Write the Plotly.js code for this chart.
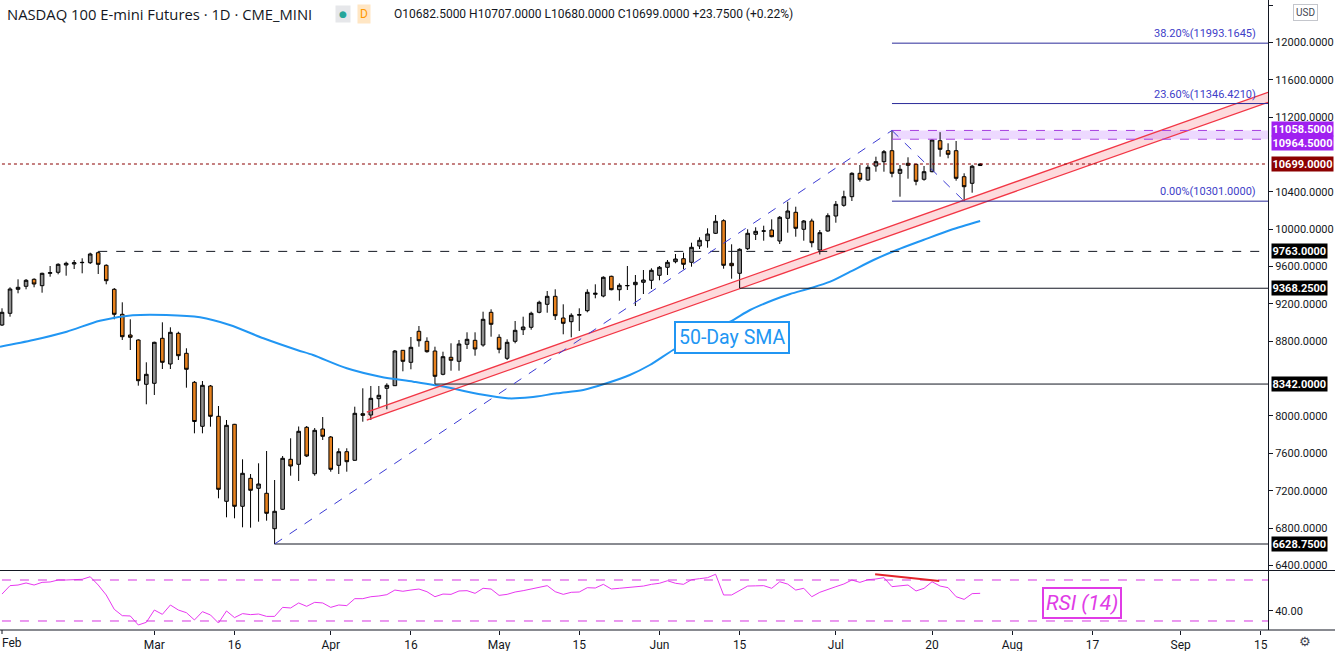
<!DOCTYPE html>
<html>
<head>
<meta charset="utf-8">
<script src="https://cdn.plot.ly/plotly-3.0.1.min.js"></script>
<style>
  html, body { margin: 0; padding: 0; background: #ffffff; }
  #chart { width: 1335px; height: 651px; }
</style>
</head>
<body>
<div id="chart"></div>
<script>
// ---- Data (daily bars, Feb 3 – Jul 28 2020, bar index = position) ----
const openP = [8974.5,9099.8,9356.9,9389,9464,9395.5,9528.3,9539,9617.2,9627.9,9641.8,9641.8,9748.9,9614,9356.9,9089.1,8867.4,8813.9,8339.4,8350.1,
  8832.1,8556.8,8885.6,8671.4,8360.8,7889.5,8321.2,7996.6,7086.2,7910.9,7032.6,7332.5,7225.4,7171.9,6792.7,7000.5,7536,7482.5,7878.8,7381.8,
  7860.6,7774.9,7471.8,7617.4,7525.3,8024.5,8010.5,8185.1,8296.5,8324.4,8703.5,8575,8907,8799.9,8696,8446.5,8628.6,8585.7,8767.8,8810.6,
  8760.3,9110.5,8842.8,8617.8,8799.9,8924.2,8949.9,9110.5,9196.2,9281.9,9049.5,9009.9,9080,9127.7,9303.4,9285.1,9496.1,9352.6,9395,9406.2,
  9431.9,9453.3,9506.9,9592.5,9652.5,9684.7,9646.1,9820.7,9877.5,9956.7,10091.7,9635.4,9528.3,9791.8,9946,9980,9992.1,9874.2,10117.4,10181.7,
  9999.6,10088.5,9777.8,9981.4,10142,10256.6,10348.7,10599.4,10527.6,10677.6,10723.6,10841.5,10599.4,10706.5,10695.8,10535.1,10616.5,10948.6,10841.5,10841.5,
  10563,10492.3,10682.5];
const highP = [9153.4,9378.3,9464,9467.2,9474.7,9534.7,9606.5,9635.4,9652.5,9670.7,9688.9,9748.9,9763,9624.7,9370.8,9217.7,9035.6,8821.2,8575,8795.7,
  9003.4,8949.9,8902.8,8725,8374.7,8374.7,8331.9,8106.9,7957,7915,7536,7378.6,7493.2,7624.9,7314.3,7571.4,7761,7887.4,7892.7,7871,
  7989.1,7785.6,7653.9,7653.9,8099.4,8296.5,8321.2,8321.2,8350.1,8706.7,8706,8846,8963.8,8842.8,8742.1,8688.5,8778.5,8813.9,8896.3,8896.3,
  9117,9142.7,8874.9,8821.2,9017.4,9063.4,9117,9234.8,9338.7,9356.9,9196.2,9099.8,9153.4,9356.9,9410.5,9496.1,9502.6,9421.2,9606.5,9510.1,
  9563.6,9581.8,9606.5,9670.7,9735,9748.9,9856,9913.9,10010.3,10152.7,10106.7,9838.9,9796.1,9999.6,10021,10038.1,10106.7,10142,10295.2,10241.6,
  10099.2,10113.1,9992.1,10170.9,10302.7,10413,10610.1,10688.3,10688.3,10777.2,10848.9,11058.5,10688.3,10770.8,10700,10677.6,10964.5,11040,10920.7,10945.3,
  10599.4,10690,10707];
const lowP = [8963.8,9063.4,9314,9356.9,9378.3,9320.5,9491.9,9517.6,9502.6,9574.3,9528.3,9627.9,9520.8,9410.5,9035.6,8813.9,8706.7,8324.4,8125.1,8224.8,
  8503.2,8503.2,8599.6,8302.9,7814.5,7814.5,7885.2,7118.3,6914.8,6904.1,6807.7,6803.4,6867.7,6878.4,6628.75,6993,7360.4,7303.6,7560,7360.4,
  7742.8,7403.2,7378.6,7403.2,7520,7938.8,7957,8093,8071.6,8321.2,8478.6,8500,8742.1,8677.8,8342,8435.8,8485,8485,8717.5,8645.7,
  8742.1,8849.2,8671.4,8599.6,8778.5,8867.4,8924.2,9099.8,9106.2,9028.1,8874.9,8842.8,8910.3,9110.5,9260.5,9271.2,9346.2,9234.8,9349.4,9178,
  9306.6,9360.1,9453.3,9510.1,9635.4,9571.1,9599,9788.6,9802.5,9949,9577.6,9470.4,9368.25,9777.8,9885,9877.5,9913.9,9842.1,9963.1,9920.3,
  9877.5,9806.8,9730,9973.9,10070.3,10241.6,10302.7,10509.4,10520.1,10616.5,10616.5,10556.5,10348.7,10541.5,10470.9,10520.1,10610,10777.2,10760,10520.1,
  10301,10391.6,10680];
const closeP = [9110.5,9360.1,9378.3,9453.3,9413.7,9528.3,9534.7,9624.7,9635.4,9641.8,9645,9735,9624.7,9449,9089.1,8849.2,8842.8,8377.9,8446.5,8789.2,
  8575,8896.3,8645.7,8500,7940.9,8328.6,7996.6,7214.7,7900.2,7032.6,7386.1,7204,7271.5,6957.6,6979.1,7546.7,7464.3,7835.9,7571.4,7846.6,
  7782.4,7428.9,7617.4,7510.3,8028.7,8007.3,8189.4,8221.6,8328.6,8696,8585.7,8735.7,8806.2,8688.5,8425,8635,8596.4,8771,8821.2,8717.5,
  9035.6,8982,8714.2,8789.2,8917.7,8953.1,9099.8,9217.7,9281.9,9074.1,8992.7,9078.4,9085,9324.8,9314.1,9485.4,9352.6,9399.7,9397,9431.9,
  9456.5,9560.4,9592.5,9646.1,9681.5,9624.7,9806.8,9881.7,9949.2,10085.3,9614,9609.7,9785.3,9956.7,9978.1,9982,9920.3,10128.1,10195.6,10010.3,
  10088.5,9856,9963.1,10145.2,10267.3,10348.7,10599.4,10535.1,10663.6,10723.6,10830.7,10599.4,10642.2,10685.1,10513.7,10616.5,10956.1,10856.4,10802.9,10545.8,
  10455.9,10675.25,10699];

// 50-day SMA (bar position, price)
const smaX = [-0.25,3.9,8.07,12.2,16.3,20.5,24.7,28.4,32.6,36.8,38.8,43,47.2,51.3,55.5,59.6,63,65.9,69.2,72.5,75.4,78.3,80.8,83.7,87.1,90.8,93.3,96.2,98.3,100.8,103.3,105.8,108.7,111.6,114.9,118.3,122];
const smaY = [8742,8814,8903,9020.6,9078.4,9081.6,9057,8974.5,8832,8706.7,8653,8510.7,8420.7,8367.1,8307.1,8232.1,8189.3,8200,8242.8,8278.3,8350.3,8439.2,8546.1,8706.7,8867.4,9009.9,9135.2,9242.3,9306.6,9367.6,9438.3,9545.4,9670.7,9777.9,9885,9992.1,10088.5];

// RSI(14) per bar
const rsi = [56.3,64.5,65.1,67.1,65.1,67.7,68.1,70,70,70.7,70.7,73.2,65.1,55.4,41.4,35.2,34.9,26.1,28.7,40.7,
  36.5,45.6,40.7,38.1,31,39.1,35.9,28,39.8,33.3,37.2,36.2,36.8,34.5,34.5,43.3,42.7,47.6,44.3,48.2,
  47.6,43.3,45.6,45,51.8,51.8,53.7,54.4,55.7,60.2,59,60.2,61.2,58.6,53.7,56.3,56,59.3,59.6,57,
  61.9,61.2,55,56,58.3,59.6,61.2,63.5,64.5,58.6,56,58,58.3,62.5,62.2,65.8,61.2,61.9,62.5,62.8,
  64.1,65.8,66.8,69.3,66.8,65.8,70.3,71.3,72.3,75.6,55.4,55.4,60,64.1,64.3,64.5,61.9,68.3,66,60.2,
  61.9,53.7,58,61,63.5,66.1,70,67.7,70.3,71,72.3,63.5,64.1,65.1,59.3,61.9,68.3,64.1,62.5,53.7,
  51.1,56.7,57];

// x-axis ticks (bar positions incl. future bars)
const tickIdx  = [19, 29, 41, 51, 62, 72, 82, 92, 104, 116, 126, 136, 147, 157];
const tickText = ['Mar','16','Apr','16','May','15','Jun','15','Jul','20','Aug','17','Sep','15'];
const firstTickLabel = 'Feb';
const priceTicks = [12400,12000,11600,11200,10400,10000,9600,9200,8800,8000,7600,7200,6800,6400];

// drawings
const trendX = [34, 111, 120];
const trendY = [6628.75, 11058.5, 10301];
const channelX = [45.5, 157.9];
const channelUpper = [8042, 11467];
const channelLower = [7955, 11360];
const fibNames = ['38.20%', '23.60%', '0.00%'];
const fibPrices = [11993.1645, 11346.4210, 10301.0000];
const fibStart = 111;
const zoneLow = 10964.5, zoneHigh = 11058.5, zoneStart = 111;
const lastClose = 10699.0;
const levelPrices = [9763, 9368.25, 8342, 6628.75];
const levelStart = [12, 92, 54, 34];
const levelDash = ['dash', 'solid', 'solid', 'solid'];
const rsiBands = [70, 30];
const divX = [108.9, 116.9];
const divY = [75.6, 69.0];

// ---- Build ----
const idx = openP.map((_, i) => i);
const XMIN = -0.25, XMAX = 157.9;
const PW = 1268, PH = 630; // plot area px

const candles = {
  type: 'candlestick', x: idx, open: openP, high: highP, low: lowP, close: closeP,
  xaxis: 'x', yaxis: 'y', whiskerwidth: 0,
  increasing: { line: { color: '#000000', width: 1 }, fillcolor: '#8f8f8f' },
  decreasing: { line: { color: '#000000', width: 1 }, fillcolor: '#e8821e' },
  hoverinfo: 'skip'
};
const sma = {
  type: 'scatter', mode: 'lines', x: smaX, y: smaY, xaxis: 'x', yaxis: 'y',
  line: { color: '#2196f3', width: 2, shape: 'spline', smoothing: 0.8 }, hoverinfo: 'skip'
};
const rsiTrace = {
  type: 'scatter', mode: 'lines', x: idx, y: rsi, xaxis: 'x', yaxis: 'y2',
  line: { color: '#e838f0', width: 1 }, hoverinfo: 'skip'
};

const shapes = [];
shapes.push({ type: 'path', xref: 'x', yref: 'y', layer: 'below',
  path: `M ${channelX[0]},${channelUpper[0]} L ${channelX[1]},${channelUpper[1]} L ${channelX[1]},${channelLower[1]} L ${channelX[0]},${channelLower[0]} Z`,
  fillcolor: 'rgba(242,54,69,0.18)', line: { width: 0 } });
shapes.push({ type: 'line', xref: 'x', yref: 'y', x0: channelX[0], x1: channelX[1], y0: channelUpper[0], y1: channelUpper[1], line: { color: '#f23645', width: 1.3 } });
shapes.push({ type: 'line', xref: 'x', yref: 'y', x0: channelX[0], x1: channelX[1], y0: channelLower[0], y1: channelLower[1], line: { color: '#f23645', width: 1.3 } });
shapes.push({ type: 'rect', xref: 'x', yref: 'y', layer: 'below', x0: zoneStart, x1: XMAX + 5, y0: zoneLow, y1: zoneHigh, fillcolor: 'rgba(190,120,255,0.28)', line: { width: 0 } });
[zoneLow, zoneHigh].forEach(v => shapes.push({ type: 'line', xref: 'x', yref: 'y', x0: zoneStart, x1: XMAX + 5, y0: v, y1: v, line: { color: '#a63ee0', width: 1, dash: 'dash' } }));
shapes.push({ type: 'line', xref: 'x', yref: 'y', x0: XMIN - 2, x1: XMAX + 5, y0: lastClose, y1: lastClose, line: { color: '#8b0000', width: 1, dash: 'dot' } });
levelPrices.forEach((v, k) => shapes.push({ type: 'line', xref: 'x', yref: 'y', x0: levelStart[k], x1: XMAX + 5, y0: v, y1: v, line: { color: '#131722', width: 1, dash: levelDash[k] } }));
fibPrices.forEach(v => shapes.push({ type: 'line', xref: 'x', yref: 'y', x0: fibStart, x1: XMAX + 5, y0: v, y1: v, line: { color: '#2b2b99', width: 1 } }));
for (let k = 0; k < trendX.length - 1; k++) {
  shapes.push({ type: 'line', xref: 'x', yref: 'y', x0: trendX[k], x1: trendX[k + 1], y0: trendY[k], y1: trendY[k + 1], line: { color: '#3b3bd4', width: 1, dash: 'dash' } });
}
rsiBands.forEach(v => shapes.push({ type: 'line', xref: 'x', yref: 'y2', x0: XMIN - 2, x1: XMAX + 5, y0: v, y1: v, line: { color: '#d633e0', width: 1, dash: 'dash' } }));
shapes.push({ type: 'line', xref: 'x', yref: 'y2', x0: divX[0], x1: divX[1], y0: divY[0], y1: divY[1], line: { color: '#e3242b', width: 2 } });
const xr = 1335 / PW;
shapes.push({ type: 'line', xref: 'paper', yref: 'paper', x0: 0, x1: xr, y0: 59.5 / PH, y1: 59.5 / PH, line: { color: '#131722', width: 1 } });
shapes.push({ type: 'line', xref: 'paper', yref: 'paper', x0: 0, x1: xr, y0: 0, y1: 0, line: { color: '#131722', width: 1 } });
shapes.push({ type: 'line', xref: 'x', yref: 'paper', x0: 0, x1: 0, y0: 0, y1: -4 / PH, line: { color: '#131722', width: 1 } });

const px = x => x / PW;
const py = y => (PH - y) / PH;

const annotations = [];
annotations.push({ xref: 'paper', yref: 'paper', x: px(0), y: py(643), xanchor: 'left', yanchor: 'middle', showarrow: false,
  text: firstTickLabel, font: { family: 'Roboto', size: 12, color: '#131722' } });
annotations.push({ xref: 'paper', yref: 'paper', x: px(5), y: py(14), xanchor: 'left', yanchor: 'middle', showarrow: false,
  text: 'NASDAQ 100 E-mini Futures · 1D · CME_MINI', font: { family: 'Open Sans', size: 14.8, color: '#131722' } });
annotations.push({ xref: 'paper', yref: 'paper', x: px(343), y: py(14), xanchor: 'center', yanchor: 'middle', showarrow: false,
  text: '●', font: { family: 'DejaVu Sans', size: 9, color: '#26a69a' }, bgcolor: '#e6e7ea', borderpad: 3 });
annotations.push({ xref: 'paper', yref: 'paper', x: px(364), y: py(14), xanchor: 'center', yanchor: 'middle', showarrow: false,
  text: 'D', font: { family: 'Roboto', size: 12, color: '#ff9800' }, bgcolor: '#ffe6c4', borderpad: 2 });
annotations.push({ xref: 'paper', yref: 'paper', x: px(392), y: py(14), xanchor: 'left', yanchor: 'middle', showarrow: false,
  text: 'O' + openP[122].toFixed(4) + ' H' + highP[122].toFixed(4) + ' L' + lowP[122].toFixed(4) + ' C' + closeP[122].toFixed(4) + ' +23.7500 (+0.22%)',
  font: { family: 'Roboto', size: 12, color: '#131722' } });
fibPrices.forEach((v, k) => annotations.push({ xref: 'x', yref: 'y', x: 156.7, y: v, xanchor: 'right', yanchor: 'bottom', yshift: 1, showarrow: false,
  text: fibNames[k] + '(' + v.toFixed(4) + ')', font: { family: 'Roboto', size: 11, color: '#4040c8' } }));
const badge = (v, bg, shift) => annotations.push({ xref: 'paper', yref: 'y', x: px(1271), y: v, xanchor: 'left', yanchor: 'middle', yshift: shift || 0,
  showarrow: false, text: '<b>' + v.toFixed(4) + '</b>', bgcolor: bg, borderpad: 0.5, font: { family: 'Roboto', size: 11, color: '#ffffff' } });
badge(zoneHigh, '#a020f0', 1.5);
badge(zoneLow, '#a020f0', -3.5);
badge(lastClose, '#8b0000', 0);
levelPrices.forEach(v => badge(v, '#000000', 0));
annotations.push({ xref: 'x', yref: 'y', x: 91.1, y: 8840, xanchor: 'center', yanchor: 'middle', showarrow: false,
  text: '50-Day SMA', font: { family: 'Roboto', size: 19.5, color: '#2196f3' }, bgcolor: '#ffffff', bordercolor: '#2196f3', borderwidth: 2, borderpad: 3 });
annotations.push({ xref: 'x', yref: 'y2', x: 134.7, y: 47.6, xanchor: 'center', yanchor: 'middle', showarrow: false,
  text: '<i>RSI (14)</i>', font: { family: 'Roboto', size: 21, color: '#e03ce6' }, bgcolor: '#ffffff', bordercolor: '#e03ce6', borderwidth: 2, borderpad: 2 });
annotations.push({ xref: 'paper', yref: 'paper', x: px(1305.5), y: py(12.5), xanchor: 'center', yanchor: 'middle', showarrow: false,
  text: 'USD', font: { family: 'Roboto', size: 10, color: '#434651' }, bgcolor: '#ffffff', bordercolor: '#c4c6cc', borderwidth: 1, borderpad: 2 });
annotations.push({ xref: 'paper', yref: 'paper', x: px(1305), y: py(641.5), xanchor: 'center', yanchor: 'middle', showarrow: false,
  text: '⚙', font: { family: 'DejaVu Sans', size: 13, color: '#434651' } });

const layout = {
  width: 1335, height: 651,
  margin: { l: 0, r: 67, t: 0, b: 21 },
  paper_bgcolor: '#ffffff', plot_bgcolor: '#ffffff',
  showlegend: false, dragmode: false, boxgap: 0.36,
  xaxis: {
    range: [XMIN, XMAX], anchor: 'y2', tickvals: tickIdx, ticktext: tickText,
    ticks: 'outside', ticklen: 4, tickcolor: '#131722', showgrid: false, zeroline: false, showline: false,
    tickfont: { family: 'Roboto', size: 12, color: '#131722' }, rangeslider: { visible: false }, fixedrange: true
  },
  yaxis: {
    domain: [60 / PH, 1], range: [6350.3, 12455.6], side: 'right', anchor: 'x',
    tickvals: priceTicks, tickformat: '.4f', ticks: 'outside', ticklen: 4, tickcolor: '#131722',
    showline: true, linecolor: '#131722', linewidth: 1, showgrid: false, zeroline: false,
    tickfont: { family: 'Roboto', size: 11, color: '#131722' }, fixedrange: true
  },
  yaxis2: {
    domain: [0, 59 / PH], range: [21.2, 78.8], side: 'right', anchor: 'x',
    tickvals: [40], ticktext: ['40.00'], ticks: 'outside', ticklen: 4, tickcolor: '#131722',
    showline: true, linecolor: '#131722', linewidth: 1, showgrid: false, zeroline: false,
    tickfont: { family: 'Roboto', size: 11, color: '#131722' }, fixedrange: true
  },
  shapes: shapes,
  annotations: annotations
};

Plotly.newPlot('chart', [sma, candles, rsiTrace], layout, { displayModeBar: false, staticPlot: true });
</script>
</body>
</html>
